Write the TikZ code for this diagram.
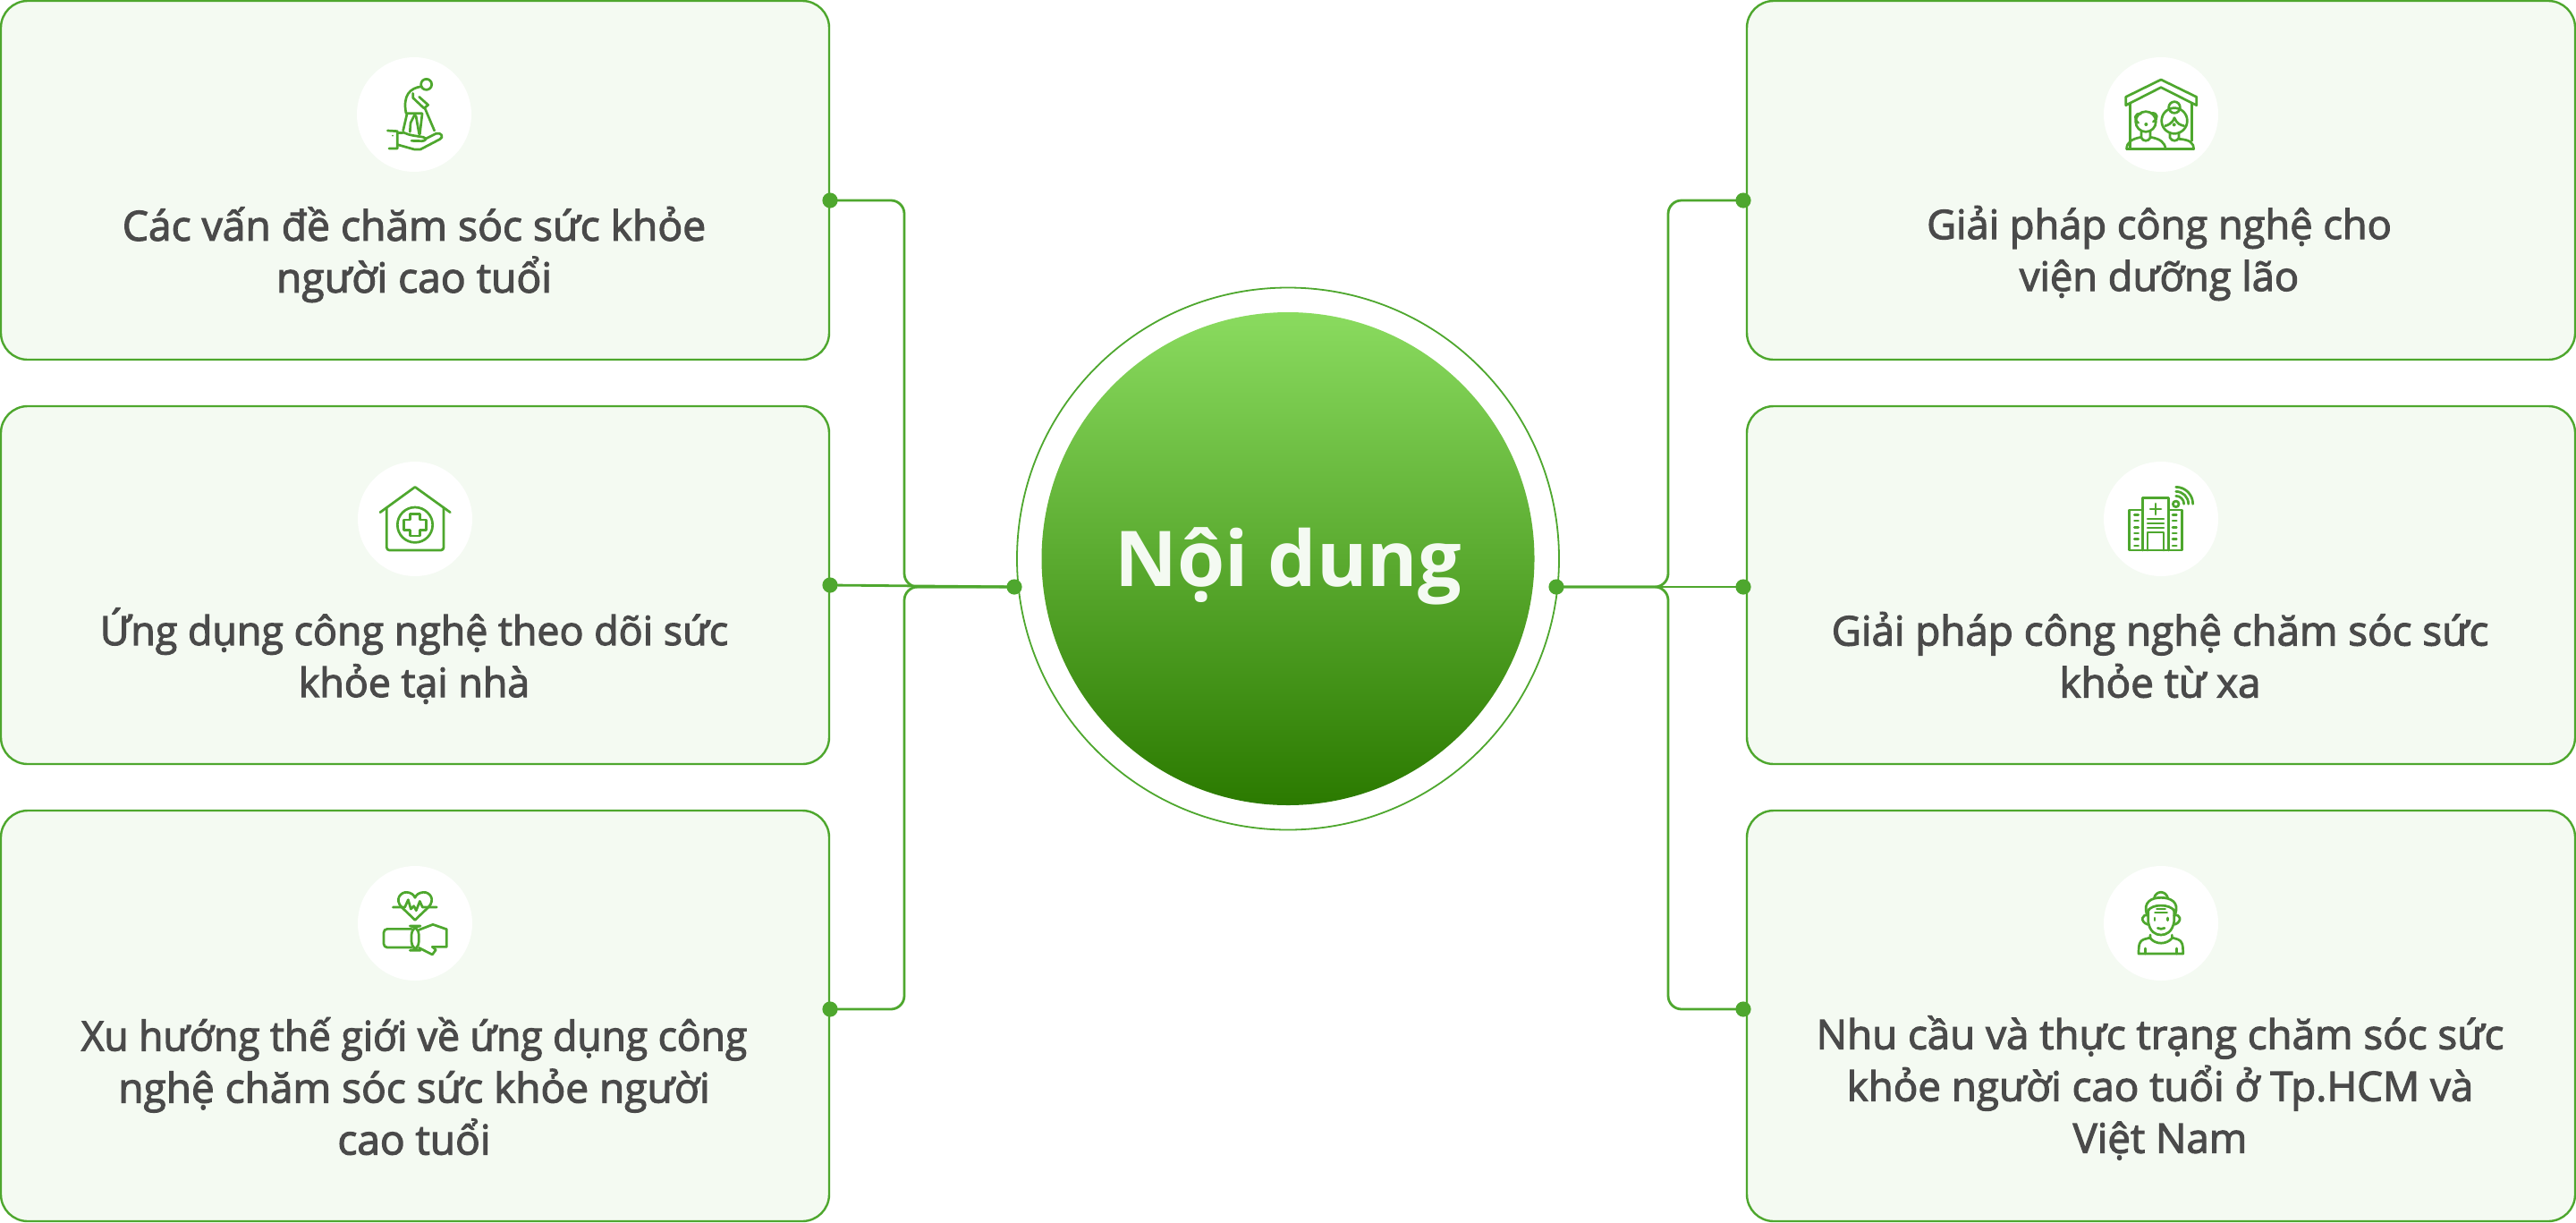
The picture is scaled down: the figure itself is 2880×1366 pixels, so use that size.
\documentclass[tikz,border=0pt]{standalone}
\usepackage{fontspec}
\setmainfont[RawFeature={embolden=2.5}]{Open Sans}
\newfontfamily\titlefont{Open Sans}
\definecolor{gr}{HTML}{4EA72E}
\definecolor{boxfill}{HTML}{F4FAF2}
\definecolor{txt}{HTML}{4A4A4A}
\definecolor{gtop}{HTML}{8ADB5F}
\definecolor{gbot}{HTML}{2B7A00}
\tikzset{
  x=0.5pt,y=-0.5pt,
  card/.style={draw=gr,fill=boxfill,line width=1.2pt,rounded corners=15pt,inner sep=0pt},
  cardtext/.style={text=txt,font=\fontsize{22.85}{29}\selectfont,align=center,inner sep=0pt,anchor=center},
  dotn/.style={circle,fill=gr,draw=none,minimum size=8.6pt,inner sep=0pt},
  halo/.style={circle,fill=white,draw=none,minimum size=64pt,inner sep=0pt},
  link/.style={draw=gr,line width=1.4pt,rounded corners=7.5pt},
  ic/.style={draw=gr,line width=1.35pt,line cap=round,line join=round,fill=none},
  icz/.style={shift={#1},x=0.16667pt,y=-0.16667pt},
}
\begin{document}
\begin{tikzpicture}
\useasboundingbox (0,0) rectangle (2880,1366);
% cards
\draw[card] (1,1) rectangle (927,402);
\draw[card] (1,454) rectangle (927,854);
\draw[card] (1,906) rectangle (927,1365);
\draw[card] (1953,1) rectangle (2879,402);
\draw[card] (1953,454) rectangle (2879,854);
\draw[card] (1953,906) rectangle (2879,1365);
% halos
\node[halo] (h1) at (463,128) {};
\node[halo] (h2) at (464,580) {};
\node[halo] (h3) at (464,1032) {};
\node[halo] (h4) at (2416,128) {};
\node[halo] (h5) at (2416,580) {};
\node[halo] (h6) at (2416,1032) {};
% centre
\node[circle,draw=gr,line width=0.9pt,minimum size=303pt,inner sep=0pt] (ring) at (1440,624.5) {};
\node[circle,top color=gtop,bottom color=gbot,draw=none,minimum size=275.5pt,inner sep=0pt] (core) at (1440,624.5) {};
\node[text=boxfill,font=\titlefont\bfseries\fontsize{43}{50}\selectfont,inner sep=0pt] (title) at (1440,633) {Nội dung};
% connectors
\node[dotn] (dl1) at (928,224) {};
\node[dotn] (dl2) at (928,654) {};
\node[dotn] (dl3) at (928,1128) {};
\node[dotn] (dr1) at (1949,224) {};
\node[dotn] (dr2) at (1949,656) {};
\node[dotn] (dr3) at (1949,1128) {};
\node[dotn] (tl) at (1134,656) {};
\node[dotn] (tr) at (1740,656) {};
\coordinate (jl) at (1011,656);
\coordinate (jr) at (1865,656);
\draw[link] (dl1.center) -| (jl) -- (tl.center);
\draw[link] (dl3.center) -| (jl) -- (tl.center);
\draw[link] (dl2.center) -- (tl.center);
\draw[link] (dr1.center) -| (jr) -- (tr.center);
\draw[link] (dr3.center) -| (jr) -- (tr.center);
\draw[link] (dr2.center) -- (tr.center);
% texts
\node[cardtext,font=\fontsize{23.1}{29}\selectfont] (t1) at (463,284.5) {Các vấn đề chăm sóc sức khỏe\\người cao tuổi};
\node[cardtext,font=\fontsize{22.4}{29}\selectfont] (t2) at (463,733) {Ứng dụng công nghệ theo dõi sức\\khỏe tại nhà};
\node[cardtext,font=\fontsize{23}{29}\selectfont] (t3) at (463,1214) {{\addfontfeature{FakeStretch=0.965}Xu hướng thế giới về ứng dụng công}\\nghệ chăm sóc sức khỏe người\\cao tuổi};
\node[cardtext,font=\fontsize{22.6}{29}\selectfont] (t4) at (2414,283) {Giải pháp công nghệ cho\\viện dưỡng lão};
\node[cardtext] (t5) at (2415,732) {Giải pháp công nghệ chăm sóc sức\\khỏe từ xa};
\node[cardtext] (t6) at (2415,1216) {Nhu cầu và thực trạng chăm sóc sức\\khỏe người cao tuổi ở Tp.HCM và\\Việt Nam};
% icon 1
\begin{scope}[icz={(350,40)}]
\draw[ic] (380,163) circle[radius=18];
\draw[ic] (364,170) .. controls (325,175) and (300,200) .. (312,260) -- (366,260);
\draw[ic] (335,193) -- (335,208) -- (372,243) -- (386,232) -- (356,205);
\draw[ic] (376,245) -- (407,318);
\draw[ic] (315,262) -- (302,318);
\draw[ic] (342,262) -- (327,292) -- (325,322);
\draw[ic] (345,268) -- (356,330);
\draw[ic] (366,262) -- (358,330);
\draw[ic] (250,318) -- (283,320) -- (283,378) -- (255,378);
\draw[ic] (283,326) -- (305,325) .. controls (325,335) and (345,335) .. (370,340) .. controls (385,345) and (375,353) .. (365,353) -- (330,352);
\draw[ic] (378,345) -- (412,328) .. controls (430,322) and (440,340) .. (425,347) -- (360,381) -- (340,381) -- (283,365);
\fill[gr] (267,335) circle[radius=3];
\end{scope}
% icon 2
\begin{scope}[icz={(370,490)}]
\draw[ic] (165,248) -- (282,163) -- (400,248);
\draw[ic,rounded corners=1.5pt] (187,232) -- (187,375) -- (378,375) -- (378,232);
\draw[ic] (282,290) circle[radius=59];
\draw[ic] (265,254) -- (299,254) -- (299,273) -- (319,273) -- (319,307) -- (299,307) -- (299,327) -- (265,327) -- (265,307) -- (245,307) -- (245,273) -- (265,273) -- cycle;
\end{scope}
% icon 3
\begin{scope}[icz={(370,950)}]
\draw[ic] (282,235) -- (237,192) .. controls (212,165) and (235,140) .. (255,142) .. controls (268,143) and (278,150) .. (282,160) .. controls (286,150) and (296,143) .. (310,142) .. controls (330,140) and (352,165) .. (327,192) -- cycle;
\draw[ic] (208,192) -- (248,192) -- (259,167) -- (268,198) -- (278,188) -- (286,203) -- (298,172) -- (307,192) -- (355,192);
\draw[ic,rounded corners=2pt] (270,265) -- (177,265) -- (177,327) -- (270,327);
\draw[ic,rounded corners=5pt] (270,255) rectangle (295,337);
\draw[ic] (295,268) -- (342,250) -- (388,266) -- (388,325) -- (340,325);
\draw[ic] (340,325) -- (352,335) -- (340,351) -- (295,328);
\end{scope}
% icon 4
\begin{scope}[icz={(2320,50)}]
\draw[ic] (170,175) -- (288,117) -- (407,175) -- (407,203) -- (288,143) -- (170,203) -- cycle;
\draw[ic] (185,197) -- (185,345);
\draw[ic] (392,197) -- (392,322);
\draw[ic] (237,258) circle[radius=34];
\draw[ic] (212,262) .. controls (195,250) and (200,228) .. (220,232);
\draw[ic] (262,258) .. controls (280,250) and (278,225) .. (255,230);
\fill[gr] (238,267) circle[radius=6];
\draw[ic] (222,292) -- (222,312) .. controls (228,325) and (246,325) .. (252,312) -- (252,292);
\draw[ic] (173,350) .. controls (172,328) and (190,315) .. (222,310);
\draw[ic] (252,310) .. controls (285,315) and (302,328) .. (303,350);
\draw[ic] (173,350) -- (398,350);
\draw[ic] (333,210) circle[radius=19];
\draw[ic] (333,255) circle[radius=43];
\draw[ic] (302,272) .. controls (310,270) and (325,265) .. (333,245) .. controls (340,265) and (355,270) .. (365,272);
\fill[gr] (332,268) circle[radius=6];
\draw[ic] (318,295) -- (318,312) .. controls (325,325) and (342,325) .. (348,312) -- (348,295);
\draw[ic] (348,316) .. controls (385,318) and (398,330) .. (398,350);
\end{scope}
% icon 5
\begin{scope}[icz={(2320,500)}]
\draw[ic] (227,345) -- (227,170) -- (313,170) -- (313,345);
\draw[ic] (227,210) -- (182,210) -- (182,345) -- (358,345) -- (358,210) -- (313,210);
\draw[ic] (252,207) -- (288,207);
\draw[ic] (270,189) -- (270,225);
\foreach \yy in {240,255,270} \draw[ic] (243,\yy) -- (297,\yy);
\draw[ic] (243,345) -- (243,285) -- (297,285) -- (297,345);
\foreach \yy in {226,246,268,288,308,330} {
  \draw[ic] (199,\yy) -- (212,\yy);
  \draw[ic] (327,\yy) -- (340,\yy);
}
\draw[ic] (338,190) circle[radius=10];
\foreach \rr in {27,42,57} \draw[ic] (338,190-\rr) arc[start angle=-90,end angle=0,radius=\rr];
\end{scope}
% icon 6
\begin{scope}[icz={(2320,950)}]
\draw[ic] (265,162) .. controls (270,135) and (305,135) .. (311,162);
\draw[ic] (240,215) .. controls (228,175) and (255,160) .. (288,160) .. controls (320,160) and (350,175) .. (336,215);
\draw[ic] (244,205) .. controls (255,180) and (320,180) .. (333,205);
\draw[ic] (245,200) -- (245,240) .. controls (250,275) and (270,285) .. (288,285) .. controls (306,285) and (326,275) .. (332,240) -- (332,200);
\draw[ic] (245,220) .. controls (225,212) and (215,240) .. (243,250);
\draw[ic] (332,220) .. controls (352,212) and (362,240) .. (334,250);
\draw[ic] (274,198) -- (302,198);
\draw[ic] (268,210) -- (308,210);
\draw[ic] (267,228) -- (267,236);
\draw[ic] (310,228) -- (310,236);
\draw[ic] (277,262) .. controls (283,266) and (293,266) .. (300,262);
\draw[ic] (252,285) -- (252,296) .. controls (270,318) and (306,318) .. (325,296) -- (325,285);
\draw[ic] (252,294) -- (230,300) .. controls (215,305) and (213,320) .. (213,348) -- (362,348) .. controls (362,320) and (360,305) .. (345,300) -- (325,294);
\draw[ic] (235,330) -- (235,348);
\draw[ic] (340,330) -- (340,348);
\end{scope}
\end{tikzpicture}
\end{document}
